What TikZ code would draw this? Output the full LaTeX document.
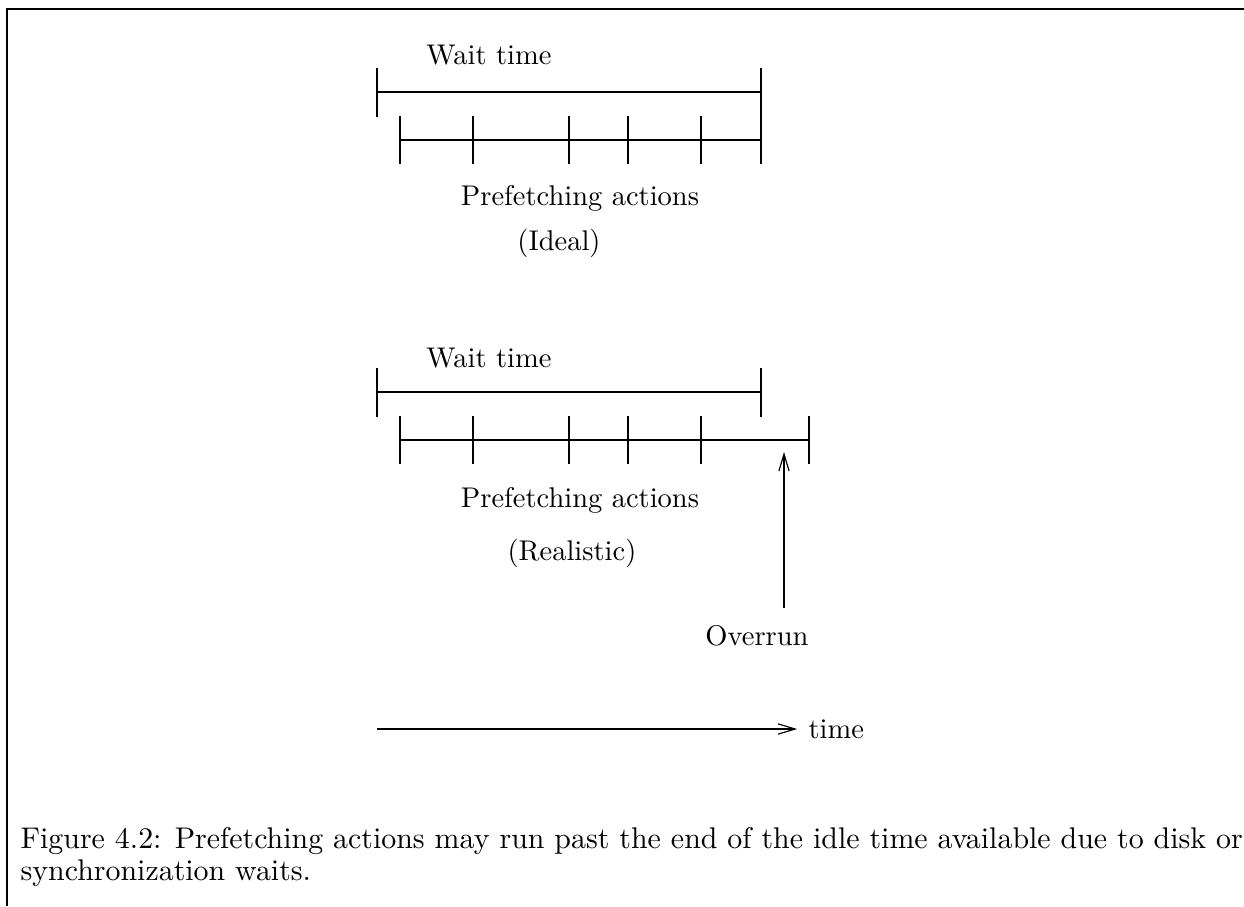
\documentclass[tikz,border=0pt]{standalone}
\usepackage{fontspec}
\usetikzlibrary{arrows.meta}
\begin{document}
\begin{tikzpicture}[x=0.351pt,y=-0.351pt,
  bar/.style={line width=0.4pt},
  tick/.style={line width=0.4pt},
  frame/.style={line width=1pt},
  pointer/.style={line width=0.4pt,-{Straight Barb[length=6pt,width=3.6pt]}},
  lbl/.style={inner sep=0pt,font=\fontsize{10}{12}\selectfont},
  captxt/.style={inner sep=0pt,anchor=west,font=\fontsize{10.5}{12}\selectfont}]
\useasboundingbox (0,0) rectangle (1244,906);
% page frame (top and left rules)
\coordinate (fTL) at (7,9);
\coordinate (fTR) at (1244,9);
\coordinate (fBL) at (7,906);
\draw[frame] (fTR) -- (fTL) -- (fBL);

% ---- ideal case ----
\coordinate (w1a) at (377,92);
\coordinate (w1b) at (761,92);
\draw[bar] (w1a) -- (w1b);
\foreach \x in {377,761}
  \draw[tick] (\x,68) -- (\x,117);
\coordinate (p1a) at (400,140);
\coordinate (p1b) at (761,140);
\draw[bar] (p1a) -- (p1b);
\foreach \x in {400,473,569,628,701,761}
  \draw[tick] (\x,116) -- (\x,164);
\node[lbl] (wt1) at (489,55) {Wait time};
\node[lbl] (pa1) at (580,198) {Prefetching actions};
\node[lbl] (id1) at (559,243) {(Ideal)};

% ---- realistic case ----
\coordinate (w2a) at (377,392);
\coordinate (w2b) at (761,392);
\draw[bar] (w2a) -- (w2b);
\foreach \x in {377,761}
  \draw[tick] (\x,368) -- (\x,417);
\coordinate (p2a) at (400,440);
\coordinate (p2b) at (809,440);
\draw[bar] (p2a) -- (p2b);
\foreach \x in {400,473,569,628,701,809}
  \draw[tick] (\x,416) -- (\x,464);
\node[lbl] (wt2) at (489,358) {Wait time};
\node[lbl] (pa2) at (580,500) {Prefetching actions};
\node[lbl] (re2) at (572,553) {(Realistic)};
\node[lbl] (ov) at (757,636) {Overrun};
\coordinate (ovtail) at (784,608);
\coordinate (ovtip) at (784,452);
\draw[pointer] (ovtail) -- (ovtip);

% ---- time axis ----
\coordinate (t0) at (377,729);
\node[lbl,anchor=west] (tm) at (808,729) {time};
\draw[pointer,shorten >=3.8pt] (t0) -- (tm.west);

% ---- caption ----
\node[captxt] (cap1) at (20,841) {Figure 4.2: Prefetching actions may run past the end of the idle time available due to disk or};
\node[captxt] (cap2) at (20,873) {synchronization waits.};
\end{tikzpicture}
\end{document}
